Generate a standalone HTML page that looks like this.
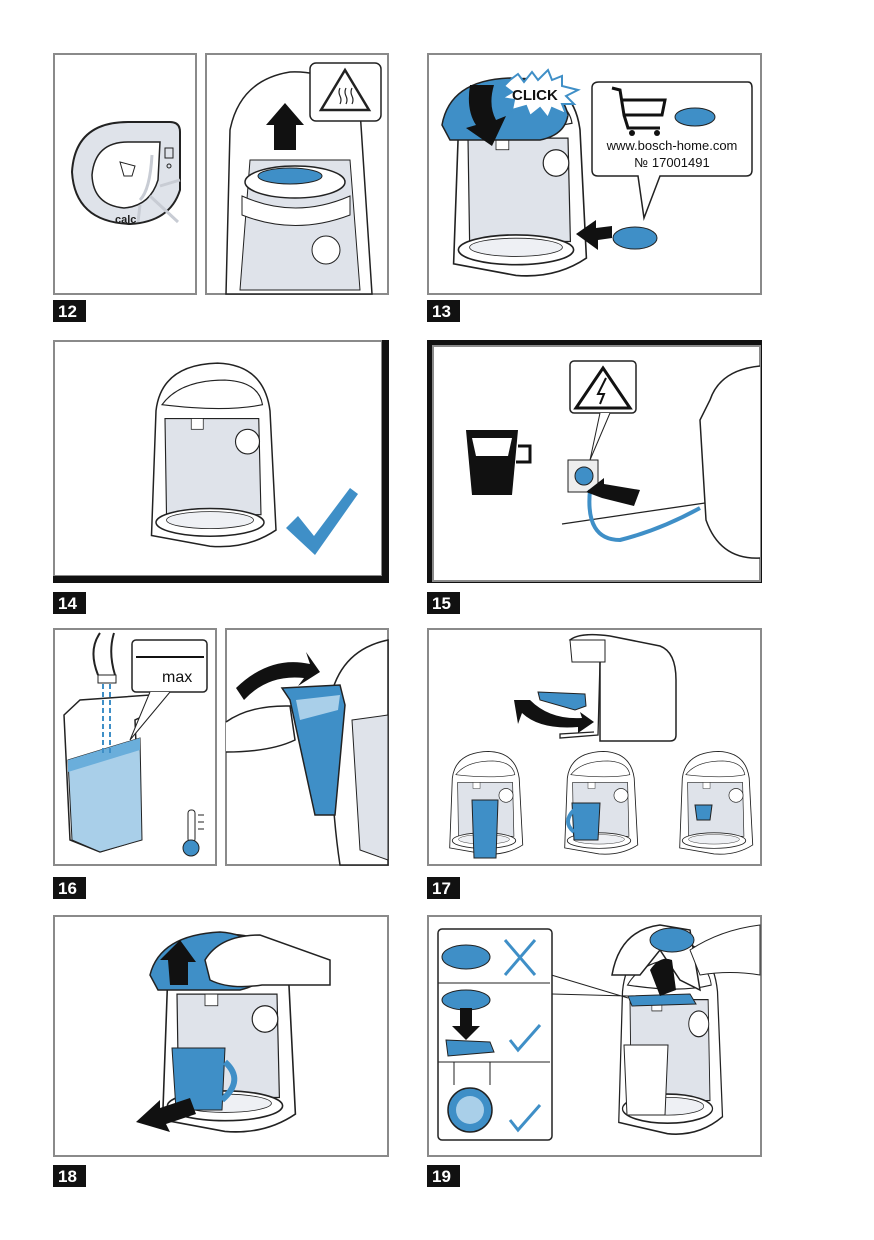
<!DOCTYPE html>
<html><head><meta charset="utf-8"><style>
html,body{margin:0;padding:0;background:#fff}
svg{display:block}
.lb{font-family:"Liberation Sans",sans-serif;font-weight:bold;font-size:17px;fill:#fff}
</style></head><body>
<svg width="874" height="1240" viewBox="0 0 874 1240" xmlns="http://www.w3.org/2000/svg">
<defs>
<symbol id="m" viewBox="0 0 200 260" preserveAspectRatio="none">
<path d="M28,70 Q35,10 110,8 Q172,10 180,70 L188,225 Q150,250 100,246 L22,232 Z" fill="#fff" stroke="#222" stroke-width="2"/>
<path d="M36,62 Q60,30 120,30 Q165,32 170,62 Q120,72 36,62Z" fill="#fff" stroke="#222" stroke-width="1.5"/>
<path d="M40,80 L165,80 L168,205 L42,205 Z" fill="#dfe3ea" stroke="#222" stroke-width="1.5"/>
<rect x="75" y="80" width="16" height="14" fill="#fff" stroke="#222"/>
<circle cx="150" cy="110" r="16" fill="#fff" stroke="#222" stroke-width="1.5"/>
<ellipse cx="100" cy="215" rx="72" ry="18" fill="#fff" stroke="#222" stroke-width="2"/>
<ellipse cx="100" cy="212" rx="58" ry="11" fill="#eef0f4" stroke="#222"/>
</symbol>
</defs>

<!-- Panel 12 -->
<rect x="54" y="54" width="142" height="240" fill="#fff" stroke="#8a8a8a" stroke-width="2"/>
<rect x="206" y="54" width="182" height="240" fill="#fff" stroke="#8a8a8a" stroke-width="2"/>
<path d="M128,122 L170,122 Q180,122 180,132 L180,190 Q170,222 130,224 Q75,222 72,172 Q75,122 128,122Z" fill="#dfe3ea" stroke="#222" stroke-width="2"/>
<path d="M128,142 L160,142 L158,180 Q150,206 124,208 Q93,205 92,175 Q95,142 128,142Z" fill="#fff" stroke="#222" stroke-width="1.5"/>
<text x="115" y="223" font-family="Liberation Sans,sans-serif" font-size="11" font-weight="bold" fill="#222">calc</text>
<path d="M120,162 l4,14 h8 l3,-10 z" fill="none" stroke="#222"/>
<path d="M152,155 Q150,190 140,200 M150,196 L178,222 M160,186 L180,180 M140,205 L138,222" stroke="#c8ccd4" stroke-width="3" fill="none"/>
<rect x="165" y="148" width="8" height="10" fill="none" stroke="#222"/>
<circle cx="169" cy="166" r="2" fill="none" stroke="#222"/>
<!-- machine 12b -->
<path d="M226,294 L230,130 Q240,80 290,72 Q340,70 360,110 L372,294 Z" fill="#fff" stroke="#222" stroke-width="1.5"/>
<path d="M250,160 L350,160 L360,290 L240,290 Z" fill="#dfe3ea" stroke="#222"/>
<ellipse cx="295" cy="182" rx="50" ry="16" fill="#fff" stroke="#222" stroke-width="1.5"/>
<ellipse cx="290" cy="176" rx="32" ry="8" fill="#3f8fc7" stroke="#222"/>
<path d="M242,196 Q295,220 350,196 L350,215 Q295,236 242,215Z" fill="#fff" stroke="#222"/>
<circle cx="326" cy="250" r="14" fill="#fff" stroke="#222"/>
<rect x="310" y="63" width="71" height="58" rx="6" fill="#fff" stroke="#222" stroke-width="1.5"/>
<path d="M345,70 L369,110 L321,110 Z" fill="none" stroke="#222" stroke-width="2.5"/>
<path d="M340,88 q-2,4 0,8 q2,4 0,8 M346,88 q-2,4 0,8 q2,4 0,8 M352,88 q-2,4 0,8 q2,4 0,8" stroke="#222" fill="none" stroke-width="1.2"/>
<path d="M274,150 L274,125 L266,125 L285,103 L304,125 L296,125 L296,150 Z" fill="#111"/>
<rect x="53" y="300" width="33" height="22" fill="#111"/><text x="58" y="317" class="lb">12</text>

<!-- Panel 13 -->
<rect x="428" y="54" width="333" height="240" fill="#fff" stroke="#8a8a8a" stroke-width="2"/>
<use href="#m" x="436" y="72" width="160" height="215"/>
<path d="M442,125 Q450,80 510,78 Q560,80 568,115 Q565,135 540,140 L450,140 Z" fill="#3f8fc7" stroke="#222" stroke-width="1.5"/>
<path d="M470,85 Q466,110 476,125 L466,128 L492,146 L506,116 L496,120 Q488,105 494,85 Z" fill="#111"/>
<path d="M510,80 L518,74 L524,82 L532,72 L538,80 L548,70 L552,80 L562,76 L562,86 L578,90 L566,96 L574,104 L562,104 L566,114 L552,108 L548,118 L540,108 L530,116 L526,106 L512,110 L514,100 L502,98 L512,92 L504,86 Z" fill="#fff" stroke="#3f8fc7" stroke-width="2"/>
<text x="512" y="100" font-family="Liberation Sans,sans-serif" font-size="15" font-weight="bold" fill="#111">CLICK</text>
<path d="M599,82 L748,82 Q752,82 752,88 L752,170 Q752,176 746,176 L660,176 L644,218 L638,176 L598,176 Q592,176 592,170 L592,88 Q592,82 599,82Z" fill="#fff" stroke="#222" stroke-width="1.5"/>
<path d="M612,88 L620,90 L624,115 L662,115 L665,100 L622,100 M624,115 L628,128 L660,128" fill="none" stroke="#111" stroke-width="3"/>
<circle cx="632" cy="133" r="3" fill="#111"/><circle cx="657" cy="133" r="3" fill="#111"/>
<ellipse cx="695" cy="117" rx="20" ry="9" fill="#3f8fc7" stroke="#222"/>
<text x="672" y="150" text-anchor="middle" font-family="Liberation Sans,sans-serif" font-size="13" fill="#111">www.bosch-home.com</text>
<text x="672" y="167" text-anchor="middle" font-family="Liberation Sans,sans-serif" font-size="13" fill="#111">№ 17001491</text>
<ellipse cx="635" cy="238" rx="22" ry="11" fill="#3f8fc7" stroke="#222"/>
<path d="M576,234 L596,220 L596,228 L612,226 L612,238 L598,240 L598,250 Z" fill="#111"/>
<rect x="427" y="300" width="33" height="22" fill="#111"/><text x="432" y="317" class="lb">13</text>

<!-- Panel 14 -->
<rect x="54" y="341" width="328" height="235" fill="#fff" stroke="#8a8a8a" stroke-width="2"/>
<rect x="382" y="340" width="7" height="243" fill="#111"/>
<rect x="53" y="576" width="336" height="7" fill="#111"/>
<use href="#m" x="135" y="357" width="150" height="200"/>
<path d="M286,528 L298,516 L314,536 L350,488 L358,494 L315,555 Z" fill="#3f8fc7"/>
<rect x="53" y="592" width="33" height="22" fill="#111"/><text x="58" y="609" class="lb">14</text>

<!-- Panel 15 -->
<rect x="427" y="340" width="335" height="243" fill="#111"/>
<rect x="433" y="346" width="327" height="235" fill="#fff" stroke="#8a8a8a" stroke-width="2"/>
<path d="M466,430 L518,430 L512,495 L472,495 Z" fill="#111"/>
<path d="M472,438 L512,438 L508,456 L476,456 Z" fill="#fff"/>
<path d="M518,446 L530,446 L530,462 L516,462" fill="none" stroke="#111" stroke-width="3"/>
<rect x="570" y="361" width="66" height="52" rx="4" fill="#fff" stroke="#222" stroke-width="1.5"/>
<path d="M603,368 L630,408 L576,408 Z" fill="none" stroke="#111" stroke-width="3"/>
<path d="M606,378 L598,394 L604,394 L600,404" fill="none" stroke="#111" stroke-width="2"/>
<path d="M600,413 L590,460 L610,413" fill="#fff" stroke="#222"/>
<rect x="568" y="460" width="30" height="32" fill="#eee" stroke="#222"/>
<circle cx="584" cy="476" r="9" fill="#3f8fc7" stroke="#222"/>
<path d="M562,524 L705,503" stroke="#222" stroke-width="1.3"/>
<path d="M590,490 Q585,540 620,540 Q660,530 700,508" fill="none" stroke="#3f8fc7" stroke-width="4"/>
<path d="M586,492 L604,478 L604,484 L640,490 L634,506 L602,498 Z" fill="#111"/>
<path d="M760,366 Q720,370 710,400 L700,420 L706,520 Q720,560 760,558" fill="#fff" stroke="#222" stroke-width="1.5"/>
<rect x="427" y="592" width="33" height="22" fill="#111"/><text x="432" y="609" class="lb">15</text>

<!-- Panel 16 -->
<rect x="54" y="629" width="162" height="236" fill="#fff" stroke="#8a8a8a" stroke-width="2"/>
<rect x="226" y="629" width="162" height="236" fill="#fff" stroke="#8a8a8a" stroke-width="2"/>
<path d="M98,675 Q88,650 100,633 M115,675 Q108,652 114,633" stroke="#222" fill="none" stroke-width="2"/>
<rect x="98" y="675" width="18" height="8" fill="#fff" stroke="#222"/>
<path d="M64,715 L80,700 L150,695 L152,712 L135,720 L140,840 L100,852 L70,840 Z" fill="#fff" stroke="#222" stroke-width="1.5"/>
<path d="M68,760 L140,738 L142,840 L100,852 L72,840 Z" fill="#a9cfe9" stroke="#222"/>
<path d="M68,760 L140,738 L140,750 L68,772Z" fill="#6aaedb"/>
<path d="M103,684 L103,755 M110,684 L110,755" stroke="#3f8fc7" stroke-width="2" stroke-dasharray="5 3"/>
<rect x="132" y="640" width="75" height="52" rx="4" fill="#fff" stroke="#222" stroke-width="1.5"/>
<path d="M136,657 L204,657" stroke="#111" stroke-width="2"/>
<text x="162" y="682" font-family="Liberation Sans,sans-serif" font-size="16" fill="#111">max</text>
<path d="M150,692 L130,740 L170,692" fill="#fff" stroke="#222"/>
<rect x="188" y="810" width="7" height="32" rx="3" fill="#fff" stroke="#222"/>
<circle cx="191" cy="848" r="8" fill="#3f8fc7" stroke="#222"/>
<path d="M198,815 h6 M198,822 h6 M198,829 h6" stroke="#222"/>
<path d="M340,865 Q330,800 330,700 Q340,650 388,640 L388,865 Z" fill="#fff" stroke="#222" stroke-width="1.5"/>
<path d="M352,720 L388,715 L388,860 L360,850 Z" fill="#dfe3ea" stroke="#222"/>
<path d="M282,688 L340,685 L345,705 L335,815 L315,815 L290,700 Z" fill="#3f8fc7" stroke="#222" stroke-width="1.5"/>
<path d="M296,700 L340,695 L338,710 L300,720 Z" fill="#a9cfe9"/>
<path d="M236,688 Q270,655 310,664 L306,652 L320,672 L298,686 L304,678 Q268,674 244,700 Z" fill="#111"/>
<path d="M226,722 Q250,705 290,706 L295,740 Q270,752 226,752" fill="#fff" stroke="#222" stroke-width="1.5"/>
<rect x="53" y="877" width="33" height="22" fill="#111"/><text x="58" y="894" class="lb">16</text>

<!-- Panel 17 -->
<rect x="428" y="629" width="333" height="236" fill="#fff" stroke="#8a8a8a" stroke-width="2"/>
<path d="M570,640 Q580,632 610,636 L660,646 Q676,652 676,680 L676,735 Q676,741 670,741 L600,741 L600,660 Z" fill="#fff" stroke="#222" stroke-width="1.5"/>
<path d="M570,640 L605,640 L605,662 L572,662 Z" fill="#fff" stroke="#222"/>
<path d="M600,662 L598,735 L560,738 L560,734 L594,732" fill="none" stroke="#222" stroke-width="1.3"/>
<path d="M538,692 L585,694 L586,706 L575,710 L540,700 Z" fill="#3f8fc7" stroke="#222"/>
<path d="M514,700 L530,700 Q550,720 582,718 L580,712 L594,722 L578,733 L578,727 Q540,730 522,713 L518,724 Z" fill="#111"/>
<use href="#m" x="440" y="748" width="88" height="112"/>
<use href="#m" x="555" y="748" width="88" height="112"/>
<use href="#m" x="670" y="748" width="88" height="112"/>
<path d="M472,800 L498,800 L496,858 L474,858 Z" fill="#3f8fc7" stroke="#222"/>
<path d="M572,803 L600,803 L598,840 L574,840 Z" fill="#3f8fc7" stroke="#222"/>
<path d="M574,810 Q562,822 574,832" fill="none" stroke="#3f8fc7" stroke-width="4"/>
<path d="M695,805 L712,805 L710,820 L697,820 Z" fill="#3f8fc7" stroke="#222"/>
<rect x="427" y="877" width="33" height="22" fill="#111"/><text x="432" y="894" class="lb">17</text>

<!-- Panel 18 -->
<rect x="54" y="916" width="334" height="240" fill="#fff" stroke="#8a8a8a" stroke-width="2"/>
<use href="#m" x="145" y="928" width="160" height="215"/>
<path d="M150,975 Q160,935 220,932 Q262,935 268,970 Q262,985 240,990 L158,990 Z" fill="#3f8fc7" stroke="#222" stroke-width="1.5"/>
<path d="M205,960 Q220,935 260,935 L330,960 L330,985 L262,985 Q230,990 210,980 Z" fill="#fff" stroke="#222" stroke-width="1.5"/>
<path d="M170,985 L168,960 L160,960 L180,940 L196,962 L188,962 L188,985 Z" fill="#111"/>
<path d="M172,1048 L225,1048 L222,1110 L176,1110 Z" fill="#3f8fc7" stroke="#222"/>
<path d="M225,1062 Q245,1080 222,1100" fill="none" stroke="#3f8fc7" stroke-width="6"/>
<path d="M136,1122 L160,1100 L160,1108 L190,1098 L196,1114 L166,1124 L170,1132 Z" fill="#111"/>
<rect x="53" y="1165" width="33" height="22" fill="#111"/><text x="58" y="1182" class="lb">18</text>

<!-- Panel 19 -->
<rect x="428" y="916" width="333" height="240" fill="#fff" stroke="#8a8a8a" stroke-width="2"/>
<use href="#m" x="605" y="935" width="125" height="210"/>
<path d="M612,975 Q620,930 660,925 L690,930 L700,990 L680,980 L660,950 L640,975 Z" fill="#fff" stroke="#222" stroke-width="1.5"/>
<ellipse cx="672" cy="940" rx="22" ry="12" fill="#3f8fc7" stroke="#222"/>
<path d="M628,996 L690,994 L696,1004 L632,1006 Z" fill="#3f8fc7" stroke="#222"/>
<path d="M660,996 L650,970 Q660,955 672,960 L676,990 Z" fill="#111"/>
<path d="M690,950 Q720,930 760,925 L760,975 Q730,970 700,975 Z" fill="#fff" stroke="#222"/>
<path d="M624,1045 L668,1045 L665,1115 L627,1115 Z" fill="#fff" stroke="#222"/>
<path d="M548,974 L628,998 M552,994 L628,996" stroke="#222" stroke-width="1"/>
<rect x="438" y="929" width="114" height="211" rx="4" fill="#fff" stroke="#222" stroke-width="1.5"/>
<path d="M438,983 H550 M438,1062 H550" stroke="#222"/>
<ellipse cx="466" cy="957" rx="24" ry="12" fill="#3f8fc7" stroke="#222"/>
<path d="M505,940 L535,975 M535,940 L505,975" stroke="#3f8fc7" stroke-width="3"/>
<ellipse cx="466" cy="1000" rx="24" ry="10" fill="#3f8fc7" stroke="#222"/>
<path d="M446,1040 L490,1042 L494,1052 L448,1056 Z" fill="#3f8fc7" stroke="#222"/>
<path d="M460,1008 L472,1008 L472,1026 L480,1026 L466,1040 L452,1026 L460,1026 Z" fill="#111"/>
<path d="M510,1040 L518,1050 L540,1025" stroke="#3f8fc7" stroke-width="3" fill="none"/>
<circle cx="470" cy="1110" r="22" fill="#3f8fc7" stroke="#222" stroke-width="1.5"/>
<circle cx="470" cy="1110" r="14" fill="#a9cfe9"/>
<path d="M454,1062 L454,1085 M490,1062 L490,1085" stroke="#222"/>
<path d="M510,1120 L518,1130 L540,1105" stroke="#3f8fc7" stroke-width="3" fill="none"/>
<rect x="427" y="1165" width="33" height="22" fill="#111"/><text x="432" y="1182" class="lb">19</text>
</svg>
</body></html>
